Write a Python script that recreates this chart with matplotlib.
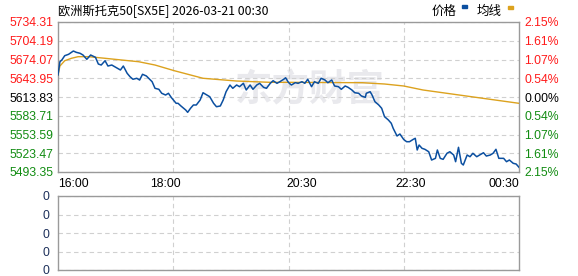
import numpy as np
import matplotlib
matplotlib.use('Agg')
import matplotlib.pyplot as plt
from matplotlib.patches import Rectangle

plt.rcParams['font.family'] = ['Liberation Sans', 'Noto Sans CJK SC', 'DejaVu Sans']

# ---- data ----
title = '欧洲斯托克50[SX5E] 2026-03-21 00:30'
prev_close = 5613.83
y_ticks = [5493.35, 5523.47, 5553.59, 5583.71, 5613.83, 5643.95, 5674.07, 5704.19, 5734.31]
pct_labels = ['2.15%', '1.61%', '1.07%', '0.54%', '0.00%', '0.54%', '1.07%', '1.61%', '2.15%']
time_labels = ['16:00', '18:00', '20:30', '22:30', '00:30']
time_label_pos = [0, 112, 254, 367, 480]
grid_pos = [120, 240, 360]

price_t = [0, 2, 4, 7, 11, 16, 19, 23, 26, 30, 34, 39, 42, 45, 49, 52, 56, 59, 65, 68,
           72, 75, 78, 82, 85, 88, 92, 98, 101, 105, 108, 112, 115, 118, 121, 123, 125, 128, 133, 135,
           138, 141, 144, 148, 151, 155, 158, 162, 165, 169, 172, 175, 179, 182, 186, 189, 193, 196, 200, 203,
           207, 210, 214, 217, 221, 224, 228, 231, 235, 237, 240, 243, 247, 250, 254, 257, 260, 264, 267, 271,
           274, 278, 281, 285, 288, 292, 295, 299, 302, 306, 309, 313, 316, 320, 321, 325, 327, 330, 334, 337,
           340, 344, 347, 349, 353, 356, 360, 363, 366, 370, 372, 374, 376, 379, 382, 386, 389, 393, 395, 398,
           401, 405, 408, 412, 414, 417, 420, 422, 426, 429, 432, 436, 439, 443, 446, 450, 453, 456, 459, 464,
           467, 470, 474, 477, 480]
price = [5649.2, 5670.5, 5673.3, 5680.2, 5682.4, 5687.7, 5685.6, 5684.0, 5681.3, 5674.4,
         5681.3, 5677.6, 5666.8, 5665.2, 5672.1, 5663.6, 5665.2, 5662.5, 5657.2, 5663.6,
         5651.9, 5646.4, 5642.3, 5643.9, 5641.1, 5650.3, 5647.6, 5638.4, 5627.8, 5626.2,
         5619.8, 5617.0, 5619.8, 5613.0, 5607.4, 5603.7, 5603.7, 5599.4, 5592.9, 5589.2,
         5595.7, 5601.0, 5601.0, 5609.0, 5620.7, 5617.0, 5614.3, 5603.7, 5598.2, 5599.4,
         5609.0, 5622.3, 5633.1, 5627.8, 5633.1, 5630.4, 5635.8, 5625.1, 5633.1, 5626.2,
         5633.1, 5635.8, 5629.4, 5627.8, 5635.8, 5640.0, 5635.8, 5638.4, 5642.3, 5644.7,
         5637.1, 5633.1, 5636.8, 5635.8, 5638.4, 5635.8, 5642.3, 5630.4, 5638.4, 5635.8,
         5643.9, 5641.1, 5636.8, 5641.1, 5631.5, 5630.4, 5626.2, 5631.5, 5629.4, 5625.1,
         5620.7, 5619.8, 5615.4, 5613.3, 5619.8, 5622.3, 5617.0, 5606.3, 5601.0, 5595.7,
         5582.2, 5576.9, 5571.6, 5563.5, 5551.2, 5554.4, 5545.5, 5542.0, 5542.0, 5545.9,
         5547.5, 5528.7, 5536.7, 5531.4, 5529.8, 5525.9, 5512.6, 5515.3, 5528.7, 5515.3,
         5513.7, 5523.4, 5525.9, 5520.6, 5509.9, 5533.0, 5507.3, 5504.6, 5520.6, 5517.9,
         5523.4, 5517.9, 5520.6, 5524.3, 5519.0, 5520.6, 5523.4, 5529.8, 5515.3, 5515.3,
         5509.9, 5512.6, 5507.3, 5506.2, 5500.9]

avg_t = [0, 2, 7, 14, 21, 32, 49, 66, 84, 101, 121, 151, 186, 221, 240, 317, 340, 360, 380, 450, 480]
avg = [5649.2, 5663.6, 5672.1, 5676.0, 5678.6, 5678.6, 5676.0, 5673.3, 5670.5, 5665.2,
       5656.1, 5643.9, 5639.5, 5637.4, 5637.4, 5636.8, 5634.7, 5631.5, 5625.1, 5610.1, 5603.7]

vol_ticks = [0, 1, 2, 3, 4]
vol_labels = ['0', '0', '0', '0', '0']

# ---- colours ----
RED = '#ff1a1a'
GREEN = '#118c11'
BLUE = '#0b4fa0'
GOLD = '#dca21e'
FRAME = '#9a9a9a'
GRID = '#d0d0d0'

W, H = 578, 276
fig = plt.figure(figsize=(W / 100, H / 100), dpi=100)

ax = fig.add_axes([58 / W, 1 - 172 / H, 461 / W, 150 / H])
ax.set_xlim(0, 480)
ax.set_ylim(y_ticks[0], y_ticks[-1])

# watermark
ax.text(262, 5613.83 + 11, '东方财富', fontsize=27, color='#e9e9ed', fontweight='bold',
        style='italic', ha='center', va='center', family=['Noto Sans CJK SC'], zorder=0)

ax.plot(avg_t, avg, color=GOLD, lw=1.0, zorder=3)
ax.plot(price_t, price, color=BLUE, lw=1.1, zorder=4)

ax.set_yticks(y_ticks)
ax.set_yticklabels([f'{v:.2f}' for v in y_ticks])
for lab, v in zip(ax.get_yticklabels(), y_ticks):
    lab.set_color(RED if v > prev_close + 0.01 else (GREEN if v < prev_close - 0.01 else 'black'))
ax.tick_params(axis='y', length=0, pad=3, labelsize=8.8)
ax.grid(axis='y', color=GRID, ls=(0, (4, 3)), lw=0.8)
for g in grid_pos:
    ax.axvline(g, color=GRID, ls=(0, (4, 3)), lw=0.8, zorder=1)

ax.set_xticks(time_label_pos)
ax.set_xticklabels(time_labels)
ax.tick_params(axis='x', length=0, pad=4, labelsize=8.8)
xl = ax.get_xticklabels()
xl[0].set_ha('left')
xl[-1].set_ha('right')

for s in ax.spines.values():
    s.set_color(FRAME)
    s.set_linewidth(1.0)

ax2 = ax.twinx()
ax2.set_ylim(ax.get_ylim())
ax2.set_yticks(y_ticks)
ax2.set_yticklabels(pct_labels)
for lab, v in zip(ax2.get_yticklabels(), y_ticks):
    lab.set_color(RED if v > prev_close + 0.01 else (GREEN if v < prev_close - 0.01 else 'black'))
ax2.tick_params(axis='y', length=0, pad=4, labelsize=8.8)
for s in ax2.spines.values():
    s.set_visible(False)

# lower (volume) panel
axv = fig.add_axes([58 / W, 1 - 270 / H, 461 / W, 74 / H])
axv.set_xlim(0, 480)
axv.set_ylim(vol_ticks[0], vol_ticks[-1])
axv.set_yticks(vol_ticks)
axv.set_yticklabels(vol_labels)
axv.tick_params(axis='y', length=0, pad=6, labelsize=8.8, labelcolor='#1c2f5a')
axv.set_xticks([])
axv.grid(axis='y', color=GRID, ls=(0, (4, 3)), lw=0.8)
for g in grid_pos:
    axv.axvline(g, color=GRID, ls=(0, (4, 3)), lw=0.8)
for s in axv.spines.values():
    s.set_color(FRAME)
    s.set_linewidth(1.0)

# title and legend
fig.text(58 / W, 1 - 11 / H, title, fontsize=8.8, va='center', ha='left',
         family=['Noto Sans CJK SC', 'DejaVu Sans'])
fig.text(432 / W, 1 - 11 / H, '价格', fontsize=9, va='center', ha='left',
         family=['Noto Sans CJK SC'])
fig.text(477 / W, 1 - 11 / H, '均线', fontsize=9, va='center', ha='left',
         family=['Noto Sans CJK SC'])
fig.patches.append(Rectangle((462 / W, 1 - 8 / H), 5 / W, 3 / H, transform=fig.transFigure,
                             color=BLUE, figure=fig))
fig.patches.append(Rectangle((508 / W, 1 - 9 / H), 5 / W, 3 / H, transform=fig.transFigure,
                             color=GOLD, figure=fig))

fig.savefig('out.png', dpi=100)
